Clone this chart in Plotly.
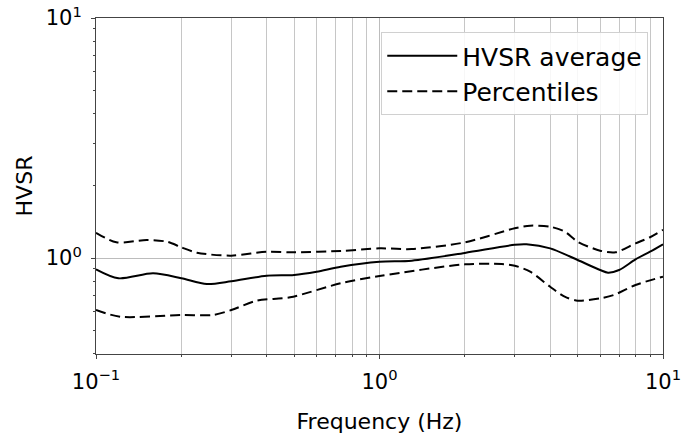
import plotly.graph_objects as go

# ---- data ----
freq_avg = [0.1, 0.12, 0.159, 0.2, 0.246, 0.3, 0.4, 0.5, 0.6, 0.73, 1.0, 1.3, 2.0, 3.0, 3.3, 4.0, 5.0, 6.0, 6.4, 7.0, 8.0, 9.0, 10.0]
hvsr_avg = [0.897, 0.823, 0.863, 0.823, 0.779, 0.80, 0.844, 0.85, 0.877, 0.92, 0.965, 0.975, 1.05, 1.135, 1.14, 1.097, 0.981, 0.891, 0.869, 0.891, 0.987, 1.062, 1.14]

freq_hi = [0.1, 0.118, 0.151, 0.178, 0.2, 0.227, 0.3, 0.4, 0.5, 0.73, 1.0, 1.3, 2.0, 3.0, 3.4, 4.0, 4.5, 5.0, 6.0, 6.8, 8.0, 9.0, 10.0]
hvsr_hi = [1.274, 1.162, 1.189, 1.169, 1.108, 1.052, 1.023, 1.062, 1.056, 1.07, 1.097, 1.09, 1.162, 1.33, 1.364, 1.35, 1.288, 1.169, 1.073, 1.056, 1.151, 1.22, 1.31]

freq_lo = [0.1, 0.122, 0.2, 0.259, 0.3, 0.369, 0.484, 0.73, 1.0, 2.0, 2.7, 3.0, 3.4, 4.0, 4.5, 5.0, 6.0, 6.7, 8.0, 10.0]
hvsr_lo = [0.607, 0.569, 0.579, 0.579, 0.607, 0.664, 0.686, 0.785, 0.841, 0.941, 0.944, 0.929, 0.877, 0.759, 0.690, 0.664, 0.679, 0.701, 0.772, 0.836]

x_major = [0.1, 1, 10]
x_major_text = ["10<sup>\u22121</sup>", "10<sup>0</sup>", "10<sup>1</sup>"]
y_major = [1, 10]
y_major_text = ["10<sup>0</sup>", "10<sup>1</sup>"]
x_minor = [m * d for d in (0.1, 1) for m in range(2, 10)]
y_minor = [0.4, 0.5, 0.6, 0.7, 0.8, 0.9] + [float(m) for m in range(2, 10)]

FONT = "DejaVu Sans"
DASH = "10px,5px"
AXC = "#444"

fig = go.Figure()
fig.add_trace(go.Scatter(x=freq_avg, y=hvsr_avg, mode="lines", name="HVSR average",
                         line=dict(color="black", width=2, shape="spline", smoothing=0.8)))
fig.add_trace(go.Scatter(x=freq_hi, y=hvsr_hi, mode="lines", name="Percentiles",
                         legendgroup="p",
                         line=dict(color="black", width=2, dash=DASH, shape="spline", smoothing=0.8)))
fig.add_trace(go.Scatter(x=freq_lo, y=hvsr_lo, mode="lines", name="Percentiles",
                         legendgroup="p", showlegend=False,
                         line=dict(color="black", width=2, dash=DASH, shape="spline", smoothing=0.8)))

fig.update_layout(
    width=681, height=436,
    margin=dict(l=96, r=18, t=18, b=82),
    paper_bgcolor="white", plot_bgcolor="white",
    font=dict(family=FONT, color="black", size=20),
    legend=dict(x=0.974, y=0.958, xanchor="right", yanchor="top",
                bgcolor="rgba(255,255,255,0.85)", bordercolor="#d0d0d0", borderwidth=1,
                font=dict(size=25), itemwidth=70, tracegroupgap=0),
    showlegend=True,
    hovermode=False,
)
fig.update_xaxes(
    type="log", range=[-1, 1], automargin=False, ticklabeloverflow="allow",
    tickmode="array", tickvals=x_major, ticktext=x_major_text,
    ticks="outside", ticklen=4, tickwidth=1, tickcolor=AXC, ticklabelstandoff=5,
    showline=True, linecolor=AXC, linewidth=1, mirror=True,
    showgrid=True, gridcolor="#bcbcbc", gridwidth=1,
    minor=dict(tickmode="array", tickvals=x_minor, ticks="outside", ticklen=2,
               tickcolor=AXC, showgrid=True, gridcolor="#c6c6c6", gridwidth=1),
    zeroline=False,
    title=dict(text="Frequency (Hz)", font=dict(size=22), standoff=20),
    tickfont=dict(size=21),
)
fig.update_yaxes(
    type="log", range=[-0.4, 1], automargin=False, ticklabeloverflow="allow",
    tickmode="array", tickvals=y_major, ticktext=y_major_text,
    ticks="outside", ticklen=4, tickwidth=1, tickcolor=AXC, ticklabelstandoff=5,
    showline=True, linecolor=AXC, linewidth=1, mirror=True,
    showgrid=True, gridcolor="#bcbcbc", gridwidth=1,
    minor=dict(tickmode="array", tickvals=y_minor, ticks="outside", ticklen=2,
               tickcolor=AXC, showgrid=False),
    zeroline=False,
    title=dict(text="HVSR", font=dict(size=22), standoff=7),
    tickfont=dict(size=21),
)

# remove the default 8px page margin so the 681x436 figure fills the window exactly
fig.write_html("out.html", config={"displayModeBar": False},
               post_script="document.body.style.margin='0px';")
